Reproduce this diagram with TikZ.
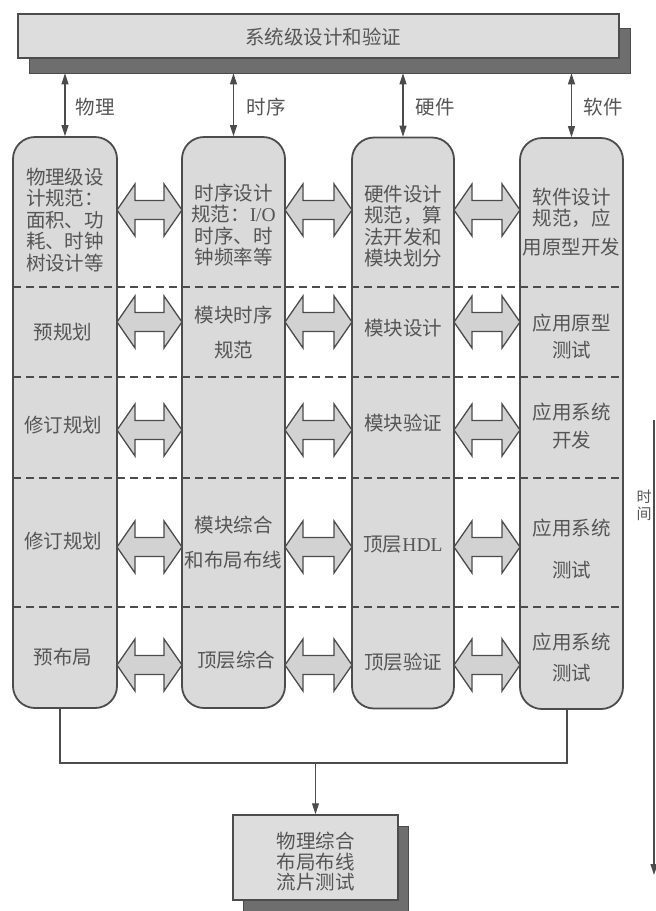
\documentclass[tikz,border=0pt]{standalone}
\usepackage{fontspec}
\setmainfont{Noto Sans CJK SC}
\newfontfamily\latf{Liberation Serif}
\usetikzlibrary{arrows.meta}
\definecolor{linec}{HTML}{4C4C4C}
\definecolor{colfill}{HTML}{DADADA}
\definecolor{arrfill}{HTML}{D2D2D2}
\definecolor{topfill}{HTML}{DDDDDD}
\definecolor{shadowc}{HTML}{6E6E6E}
\definecolor{txtc}{HTML}{555555}
\begin{document}
\begin{tikzpicture}[x=1pt,y=-1pt,
  colbox/.style={draw=linec, line width=1.8pt, fill=colfill, rounded corners=22pt,
    minimum height=571pt, inner sep=0pt},
  txt/.style={text=txtc, font=\fontsize{19.5}{21.5}\selectfont, align=center, inner sep=0pt},
  dbl/.style={draw=linec, line width=1.3pt, fill=arrfill, line join=miter},
  conn/.style={draw=linec, line width=1.1pt},
  vconn/.style={conn, {Triangle[length=11pt,width=7pt]}-{Triangle[length=11pt,width=7pt]}},
  tipconn/.style={conn, -{Triangle[length=11pt,width=7pt]}},
  rowdash/.style={draw=linec, line width=1.1pt, dash pattern=on 8pt off 5pt},
  flatbox/.style={draw=linec, line width=1.5pt, fill=topfill, inner sep=0pt},
  shadowbox/.style={fill=shadowc, draw=linec, line width=0.8pt, inner sep=0pt}
]
\useasboundingbox (0,0) rectangle (656,911);

% top box with shadow
\node[shadowbox, minimum width=601pt, minimum height=45pt] (topsh) at (329.5,50.5) {};
\node[flatbox, minimum width=601pt, minimum height=44pt] (top) at (318.5,36) {};
\node[txt] (toptxt) at (323,37) {系统级设计和验证};

% columns
\node[colbox, minimum width=104pt] (c1) at (65,422.5) {};
\node[colbox, minimum width=103pt] (c2) at (233.5,422.5) {};
\node[colbox, minimum width=102pt] (c3) at (403,423) {};
\node[colbox, minimum width=103pt] (c4) at (571.5,423.5) {};

% dashed row separators
\foreach \yy/\nm in {287/d1,377/d2,478/d3,607/d4}{
  \coordinate (\nm L) at (13,\yy);
  \coordinate (\nm R) at (623,\yy);
  \draw[rowdash] (\nm L) -- (\nm R);
}

% vertical arrows from the system box
\draw[vconn] (c1.north |- topsh.south) -- (c1.north);
\draw[vconn] (c2.north |- topsh.south) -- (c2.north);
\draw[vconn] (c3.north |- topsh.south) -- (c3.north);
\draw[vconn] (c4.north |- topsh.south) -- (c4.north);
\node[txt] (l1) at (95,107) {物理};
\node[txt] (l2) at (266,107) {时序};
\node[txt] (l3) at (435,107) {硬件};
\node[txt] (l4) at (603,107) {软件};

% double arrows between columns
\foreach \xa/\xb in {117/182,285/352,454/520}{
  \foreach \yy in {210,322,430,547,665}{
    \filldraw[dbl] (\xa,\yy) -- (\xa+18,\yy-26) -- (\xa+18,\yy-9.5) -- (\xb-18,\yy-9.5)
      -- (\xb-18,\yy-26) -- (\xb,\yy) -- (\xb-18,\yy+26) -- (\xb-18,\yy+9.5)
      -- (\xa+18,\yy+9.5) -- (\xa+18,\yy+26) -- cycle;
  }
}

% column 1 texts
\node[txt] (t11) at (65,220) {物理级设\\计规范：\\面积、功\\耗、时钟\\树设计等};
\node[txt] (t12) at (63,332) {预规划};
\node[txt] (t13) at (63,425) {修订规划};
\node[txt] (t14) at (63,541) {修订规划};
\node[txt] (t15) at (63,657) {预布局};

% column 2 texts
\node[txt] (t21) at (233.5,225) {时序设计\\规范：{\latf I/O}\\时序、时\\钟频率等};
\node[txt] (t22) at (233.5,332.5) {模块时序\\[13.5pt]规范};
\node[txt] (t24) at (233.5,542.5) {模块综合\\[13.5pt]和布局布线};
\node[txt] (t25) at (236,660) {顶层综合};

% column 3 texts
\node[txt] (t31) at (403,226) {硬件设计\\规范，算\\法开发和\\模块划分};
\node[txt] (t32) at (403,328) {模块设计};
\node[txt] (t33) at (403,423) {模块验证};
\node[txt] (t34) at (403,545) {顶层{\latf HDL}};
\node[txt] (t35) at (403,662) {顶层验证};

% column 4 texts
\node[txt] (t41) at (571.5,222) {软件设计\\规范，应\\[7pt]用原型开发};
\node[txt] (t42) at (571.5,336.5) {应用原型\\[5.5pt]测试};
\node[txt] (t43) at (571.5,426) {应用系统\\[6.5pt]开发};
\node[txt] (t44) at (571.5,549) {应用系统\\[20.5pt]测试};
\node[txt] (t45) at (571.5,657.5) {应用系统\\[9.5pt]测试};

% collecting bus to final box
\coordinate (bus) at (315.5,763);
\node[shadowbox, minimum width=165pt, minimum height=85pt] (botsh) at (325.5,868.5) {};
\node[flatbox, minimum width=165pt, minimum height=85pt] (bot) at (315.5,857.5) {};
\node[txt, font=\fontsize{19.5}{20.5}\selectfont] (bottxt) at (315.5,862) {物理综合\\布局布线\\流片测试};
\draw[conn] ([xshift=-5pt]c1.south) |- (bus);
\draw[conn] ([xshift=-4.5pt]c4.south) |- (bus);
\draw[tipconn] (bus) -- (bot.north);

% time axis
\coordinate (tA) at (654,420);
\coordinate (tB) at (654,875);
\draw[tipconn] (tA) -- (tB);
\node[text=txtc, font=\fontsize{15}{17}\selectfont, align=center, inner sep=0pt] (tlbl) at (644,505) {时\\间};
\end{tikzpicture}
\end{document}
